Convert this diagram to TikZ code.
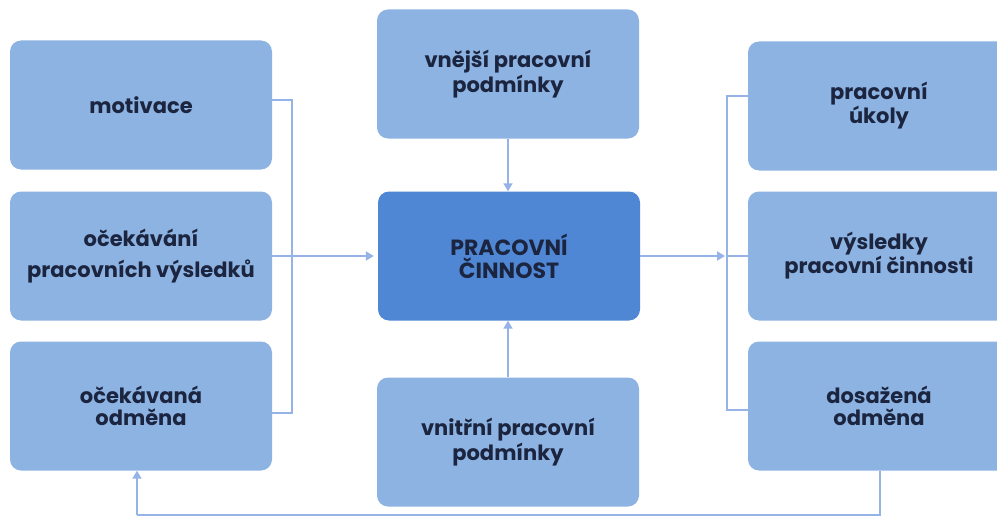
\documentclass[tikz,border=0pt]{standalone}
\usepackage{fontspec}
\setmainfont{Poppins}
\usetikzlibrary{arrows.meta}
\definecolor{boxlight}{HTML}{8DB3E2}
\definecolor{boxdark}{HTML}{4F87D5}
\definecolor{linkblue}{HTML}{95B3E6}
\definecolor{txtnavy}{HTML}{1C2540}
\tikzset{
  box/.style={draw=none, fill=boxlight, rounded corners=11pt,
    minimum width=262pt, minimum height=129pt, align=center,
    text=txtnavy, font=\bfseries\fontsize{21}{22}\selectfont},
  corebox/.style={box, fill=boxdark, font=\bfseries\fontsize{22}{23}\selectfont},
  link/.style={draw=linkblue, line width=1.8pt},
  arr/.style={link, -{Triangle[length=8pt,width=9pt]}},
}
\begin{document}
\begin{tikzpicture}[x=1pt, y=-1pt]
\useasboundingbox (0,0) rectangle (997,519);
\clip (0,0) rectangle (997,519);
\fill[white] (0,0) rectangle (997,519);

% left column: inputs of the individual
\node[box] (mot) at (141,105) {motivace};
\node[box, font=\bfseries\fontsize{21}{31}\selectfont] (ocv) at (141,256) {očekávání\\pracovních výsledků};
\node[box] (ocm) at (141,406) {očekávaná\\odměna};

% centre column: conditions and the activity itself
\node[box, font=\bfseries\fontsize{21}{25}\selectfont] (ext) at (508,74) {vnější pracovní\\podmínky};
\node[corebox] (act) at (509,256) {PRACOVNÍ\\ČINNOST};
\node[box, font=\bfseries\fontsize{21}{25}\selectfont] (int) at (508,442) {vnitřní pracovní\\podmínky};

% right column: outcomes
\node[box] (uk) at (879,106) {pracovní\\úkoly};
\node[box] (vys) at (879,256) {výsledky\\pracovní činnosti};
\node[box] (dos) at (879,406) {dosažená\\odměna};

% bracket gathering the left column
\coordinate (lb) at (292,256);
\draw[link] ([yshift=5pt]mot.east) -| (lb) |- ([yshift=-7pt]ocm.east);
\draw[arr, shorten >=4pt] (ocv.east) -- (act.west);

% bracket distributing to the right column
\coordinate (rb) at (727,256);
\draw[link] ([yshift=10pt]uk.east -| vys.west) -| (rb) |- ([yshift=-4pt]dos.west);
\draw[arr, shorten >=2pt] (act.east) -- (rb);
\draw[link] (rb) -- (vys.west);

% conditions feeding the activity
\draw[arr] (ext.south) -- (ext.south |- act.north);
\draw[arr] (int.north) -- (int.north |- act.south);

% feedback loop from achieved reward to expected reward
\coordinate (fbr) at (880,515);
\coordinate (fbl) at (137,515);
\draw[link] ([xshift=1pt]dos.south) -- (fbr) -- (fbl);
\draw[arr] (fbl) -- ([xshift=-4pt]ocm.south);
\end{tikzpicture}
\end{document}
